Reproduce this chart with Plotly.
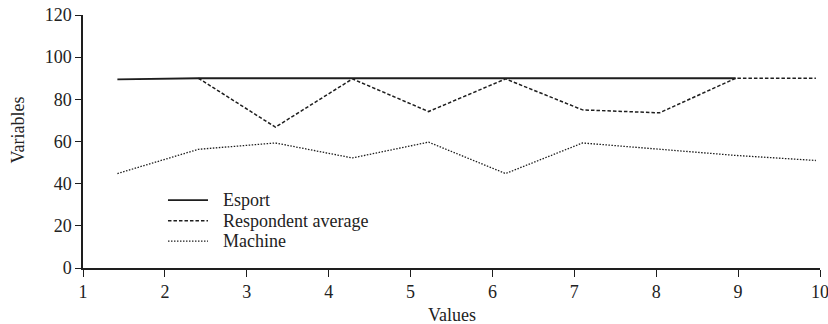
import plotly.graph_objects as go

x_esport = [1.42, 2.41, 3.35, 4.29, 5.22, 6.16, 7.10, 8.04, 8.97]
y_esport = [89.5, 90, 90, 90, 90, 90, 90, 90, 90]

x_resp = [2.41, 3.35, 4.29, 5.22, 6.16, 7.10, 8.04, 8.97, 9.95]
y_resp = [90, 66.8, 89.7, 74.2, 89.7, 75, 73.6, 90, 90]

x_mach = [1.42, 2.41, 3.35, 4.29, 5.22, 6.16, 7.10, 8.04, 8.97, 9.95]
y_mach = [44.8, 56.3, 59.3, 52.2, 59.7, 44.8, 59.3, 56.3, 53.4, 51]

x_ticks = [1, 2, 3, 4, 5, 6, 7, 8, 9, 10]
y_ticks = [0, 20, 40, 60, 80, 100, 120]

series_names = ["Esport", "Respondent average", "Machine"]
series_dash = ["solid", "3.5px,2px", "1.5px,1.5px"]
series_width = [1.8, 1.5, 1.3]

line_color = "#1e1e1e"
font = dict(family="Liberation Serif, Times New Roman, serif", size=18, color="#222222")

fig = go.Figure()
for xs, ys, name, dash, w in zip([x_esport, x_resp, x_mach], [y_esport, y_resp, y_mach],
                                 series_names, series_dash, series_width):
    fig.add_trace(go.Scatter(x=xs, y=ys, mode="lines", name=name, showlegend=False,
                             line=dict(color=line_color, width=w, dash=dash)))

# manual legend (paper coordinates)
leg_y = [0.268, 0.1866, 0.1065]
for name, dash, w, yy in zip(series_names, series_dash, series_width, leg_y):
    fig.add_shape(type="line", xref="paper", yref="paper", x0=0.1153, x1=0.1696, y0=yy, y1=yy,
                  line=dict(color=line_color, width=w, dash=dash))
    fig.add_annotation(xref="paper", yref="paper", x=0.1876, y=yy, text=name, showarrow=False,
                       xanchor="left", yanchor="middle", font=font)

fig.add_annotation(xref="paper", yref="paper", x=-0.088, y=0.544, text="Variables", showarrow=False,
                   textangle=-90, xanchor="center", yanchor="middle", font=font)
fig.add_annotation(xref="paper", yref="paper", x=0.5, y=-0.185, text="Values", showarrow=False,
                   xanchor="center", yanchor="middle", font=font)

fig.update_layout(
    width=828, height=324,
    margin=dict(l=83, r=8, t=14.5, b=56),
    paper_bgcolor="white", plot_bgcolor="white",
    font=font,
    showlegend=False,
)
fig.update_xaxes(range=[1, 10], tickvals=x_ticks, ticktext=[str(v) for v in x_ticks],
                 showline=True, linecolor=line_color, linewidth=1.5,
                 ticks="outside", ticklen=7, tickcolor=line_color, tickwidth=1.2,
                 showgrid=False, zeroline=False, automargin=False, ticklabeloverflow="allow")
fig.update_yaxes(range=[0, 120], tickvals=y_ticks, ticktext=[str(v) for v in y_ticks],
                 showline=True, linecolor=line_color, linewidth=1.5,
                 ticks="outside", ticklen=6, tickcolor=line_color, tickwidth=1.2,
                 showgrid=False, zeroline=False, automargin=False, ticklabeloverflow="allow")

fig.write_html("out.html", config={"displayModeBar": False},
               post_script="document.body.style.margin='0';")
